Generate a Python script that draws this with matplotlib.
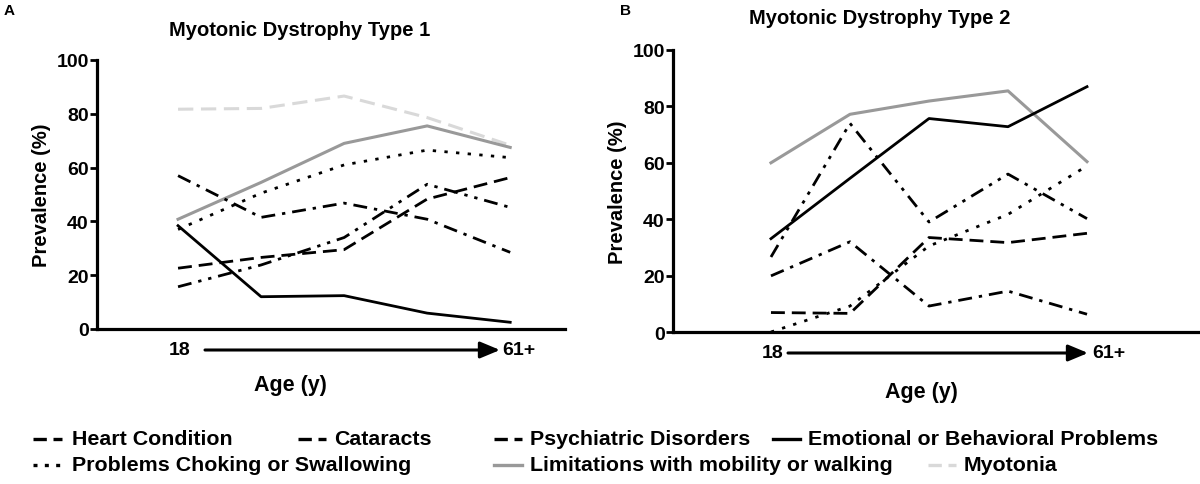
import matplotlib.pyplot as plt
from matplotlib.patches import FancyArrowPatch

plt.rcParams['font.family'] = ['Liberation Sans', 'DejaVu Sans']
plt.rcParams['font.weight'] = 'bold'

# age groups, 18 -> 61+
groups = [0, 1, 2, 3, 4]

# Myotonic Dystrophy Type 1
dm1_heart = [22.6, 26.6, 29.5, 48.3, 56.3]
dm1_cataracts = [57.0, 41.5, 46.8, 40.8, 28.5]
dm1_psych = [15.7, 23.8, 34.0, 53.8, 45.2]
dm1_emotional = [38.4, 12.0, 12.4, 5.9, 2.5]
dm1_choking = [37.0, 50.5, 61.0, 66.5, 63.7]
dm1_mobility = [40.8, 54.5, 69.0, 75.5, 67.5]
dm1_myotonia = [81.7, 82.0, 86.6, 78.6, 68.3]

# Myotonic Dystrophy Type 2
dm2_heart = [6.9, 6.6, 33.5, 31.7, 35.0]
dm2_cataracts = [19.9, 32.0, 9.2, 14.5, 6.3]
dm2_psych = [26.6, 74.0, 39.0, 56.0, 40.2]
dm2_emotional = [33.1, 54.5, 75.7, 72.8, 87.0]
dm2_choking = [0.0, 9.2, 30.5, 41.7, 58.9]
dm2_mobility = [60.0, 77.2, 81.9, 85.5, 60.4]

y_ticks = [0, 20, 40, 60, 80, 100]

W, H = 1200, 485
fig = plt.figure(figsize=(W / 100, H / 100), dpi=100)


def px_axes(x0, x1, ytop, ybot):
    return fig.add_axes([x0 / W, (H - ybot) / H, (x1 - x0) / W, (ybot - ytop) / H])


def fy(y):
    return H - y


styles = {
    'heart': dict(color='black', lw=2.0, dashes=(5, 2.5)),
    'cataracts': dict(color='black', lw=2.0, dashes=(5, 2.5, 1.2, 2.5)),
    'psych': dict(color='black', lw=2.0, dashes=(5, 2.5, 1.2, 2.5, 1.2, 2.5)),
    'emotional': dict(color='black', lw=2.0),
    'choking': dict(color='black', lw=2.0, dashes=(1.2, 3.0)),
    'mobility': dict(color='#999999', lw=2.2),
    'myotonia': dict(color='#d9d9d9', lw=2.2, dashes=(5, 2.5)),
}


def style_axes(ax):
    ax.set_ylim(0, 100)
    ax.set_yticks(y_ticks)
    ax.set_xticks([])
    for s in ['top', 'right']:
        ax.spines[s].set_visible(False)
    for s in ['left', 'bottom']:
        ax.spines[s].set_linewidth(2.3)
    ax.tick_params(axis='y', direction='out', length=5, width=2, labelsize=14, pad=1)
    ax.set_ylabel('Prevalence (%)', fontsize=14.5, fontweight='bold', labelpad=4)


# Panel A
axA = px_axes(97, 565, 61, 330)
axA.plot(groups, dm1_myotonia, **styles['myotonia'])
axA.plot(groups, dm1_mobility, **styles['mobility'])
axA.plot(groups, dm1_choking, **styles['choking'])
axA.plot(groups, dm1_heart, **styles['heart'])
axA.plot(groups, dm1_cataracts, **styles['cataracts'])
axA.plot(groups, dm1_psych, **styles['psych'])
axA.plot(groups, dm1_emotional, **styles['emotional'])
axA.set_xlim(-0.976, 4.66)
style_axes(axA)

# Panel B
axB = px_axes(673, 1200, 51, 333)
axB.plot(groups, dm2_mobility, **styles['mobility'])
axB.plot(groups, dm2_emotional, **styles['emotional'])
axB.plot(groups, dm2_psych, **styles['psych'])
axB.plot(groups, dm2_cataracts, **styles['cataracts'])
axB.plot(groups, dm2_heart, **styles['heart'])
axB.plot(groups, dm2_choking, **styles['choking'])
axB.set_xlim(-1.24, 5.43)
style_axes(axB)

# titles and panel letters
fig.text(300 / W, fy(30) / H, 'Myotonic Dystrophy Type 1', ha='center', va='center',
         fontsize=14.5, fontweight='bold')
fig.text(880 / W, fy(18) / H, 'Myotonic Dystrophy Type 2', ha='center', va='center',
         fontsize=14.5, fontweight='bold')
fig.text(4 / W, fy(11) / H, 'A', ha='left', va='center', fontsize=11, fontweight='bold')
fig.text(620 / W, fy(11) / H, 'B', ha='left', va='center', fontsize=11, fontweight='bold')

# age arrows below each panel
for x18, xa0, xa1, x61, yarr, xage, yage in [(180, 205, 500, 502, 351, 290, 386),
                                             (773, 788, 1088, 1092, 354, 921, 393)]:
    fig.text(x18 / W, fy(yarr) / H, '18', ha='center', va='center', fontsize=14, fontweight='bold')
    fig.text(x61 / W, fy(yarr) / H, '61+', ha='left', va='center', fontsize=14, fontweight='bold')
    fig.patches.append(FancyArrowPatch(
        (xa0, fy(yarr)), (xa1, fy(yarr)), transform=None, arrowstyle='-|>,head_length=12,head_width=5',
        color='black', lw=2.2, mutation_scale=1, shrinkA=0, shrinkB=0))
    fig.text(xage / W, fy(yage) / H, 'Age (y)', ha='center', va='center', fontsize=15.5, fontweight='bold')

# legend entries: key, label, handle x0, handle x1, text x, row y
legend_items = [
    ('heart', 'Heart Condition', 33, 62, 72, 440),
    ('cataracts', 'Cataracts', 298, 326, 334, 440),
    ('psych', 'Psychiatric Disorders', 494, 522, 530, 440),
    ('emotional', 'Emotional or Behavioral Problems', 773, 800, 808, 440),
    ('choking', 'Problems Choking or Swallowing', 33, 62, 72, 466),
    ('mobility', 'Limitations with mobility or walking', 494, 522, 530, 466),
    ('myotonia', 'Myotonia', 928, 956, 964, 466),
]
for key, label, hx0, hx1, tx, ry in legend_items:
    st = dict(styles[key])
    st['lw'] = 2.4
    if 'dashes' in st:
        st['dashes'] = (4, 2) if key != 'choking' else (1.2, 2.2)
    fig.add_artist(plt.Line2D([hx0 / W, hx1 / W], [fy(ry) / H, fy(ry) / H], transform=fig.transFigure, **st))
    fig.text(tx / W, fy(ry) / H, label, ha='left', va='center', fontsize=15.4, fontweight='bold')

fig.savefig('out.png', dpi=100)
